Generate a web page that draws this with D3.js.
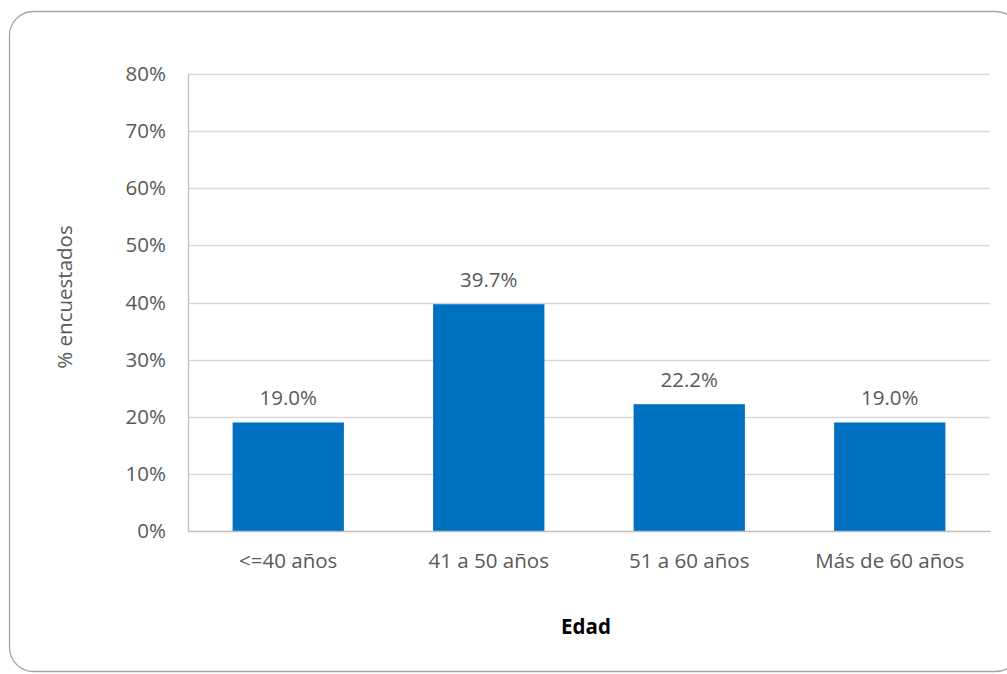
<!DOCTYPE html>
<html>
<head>
<meta charset="utf-8">
<script src="https://cdn.jsdelivr.net/npm/d3@7"></script>
<style>
  body { margin: 0; background: #fff; }
  text { font-family: "Open Sans", sans-serif; fill: #595959; }
</style>
</head>
<body>
<div id="chart"></div>
<script>
var categories = ['<=40 años', '41 a 50 años', '51 a 60 años', 'Más de 60 años'];
var values = [0.190, 0.397, 0.222, 0.190];
var yTicks = [0, 0.1, 0.2, 0.3, 0.4, 0.5, 0.6, 0.7, 0.8];

var dim = { width: 1007, height: 674 };
var plot = { left: 188, right: 990, top: 74, bottom: 531 };
var fontSize = 20.5;

var svg = d3.select('#chart').append('svg')
    .attr('width', dim.width)
    .attr('height', dim.height);

// outer rounded frame
svg.append('rect')
    .attr('x', 9.5).attr('y', 11.5)
    .attr('width', 1010).attr('height', 660)
    .attr('rx', 24).attr('ry', 24)
    .attr('fill', '#fff')
    .attr('stroke', '#a6a6a6')
    .attr('stroke-width', 1.3);

var x = d3.scaleBand()
    .domain(categories)
    .range([plot.left, plot.right])
    .paddingInner(0.445)
    .paddingOuter(0.2225);

var y = d3.scaleLinear()
    .domain([0, 0.8])
    .range([plot.bottom, plot.top]);

// gridlines
svg.append('g').selectAll('line')
    .data(yTicks.filter(d => d > 0))
    .enter().append('line')
    .attr('x1', plot.left).attr('x2', plot.right)
    .attr('y1', d => Math.round(y(d)) + 0.5)
    .attr('y2', d => Math.round(y(d)) + 0.5)
    .attr('stroke', '#d9d9d9')
    .attr('stroke-width', 1.3);

// y axis
var yAxis = svg.append('g')
    .attr('transform', `translate(${plot.left},0)`)
    .call(d3.axisLeft(y).tickValues(yTicks).tickFormat(d3.format('.0%')).tickSize(0).tickPadding(22));
yAxis.select('.domain').attr('stroke', '#bfbfbf').attr('stroke-width', 1.3);
yAxis.selectAll('text').attr('font-size', fontSize).attr('fill', '#595959')
    .attr('font-family', '"Open Sans", sans-serif');

// bars
svg.append('g').selectAll('rect')
    .data(values)
    .enter().append('rect')
    .attr('x', (d, i) => x(categories[i]))
    .attr('y', d => y(d))
    .attr('width', x.bandwidth())
    .attr('height', d => y(0) - y(d))
    .attr('fill', '#0070c0');

// x axis
var xAxis = svg.append('g')
    .attr('transform', `translate(0,${plot.bottom})`)
    .call(d3.axisBottom(x).tickSize(0).tickPadding(22));
xAxis.select('.domain').attr('stroke', '#bfbfbf').attr('stroke-width', 1.3);
xAxis.selectAll('text').attr('font-size', fontSize).attr('fill', '#595959')
    .attr('font-family', '"Open Sans", sans-serif');

// value labels
svg.append('g').selectAll('text')
    .data(values)
    .enter().append('text')
    .attr('x', (d, i) => x(categories[i]) + x.bandwidth() / 2)
    .attr('y', d => y(d) - 17)
    .attr('text-anchor', 'middle')
    .attr('font-size', fontSize)
    .text(d => d3.format('.1%')(d));

// axis titles
svg.append('text')
    .attr('transform', 'translate(72,297) rotate(-90)')
    .attr('text-anchor', 'middle')
    .attr('font-size', fontSize)
    .text('% encuestados');

svg.append('text')
    .attr('x', 586).attr('y', 634)
    .attr('text-anchor', 'middle')
    .attr('font-size', fontSize)
    .attr('font-weight', 'bold')
    .style('fill', '#000')
    .text('Edad');
</script>
</body>
</html>
